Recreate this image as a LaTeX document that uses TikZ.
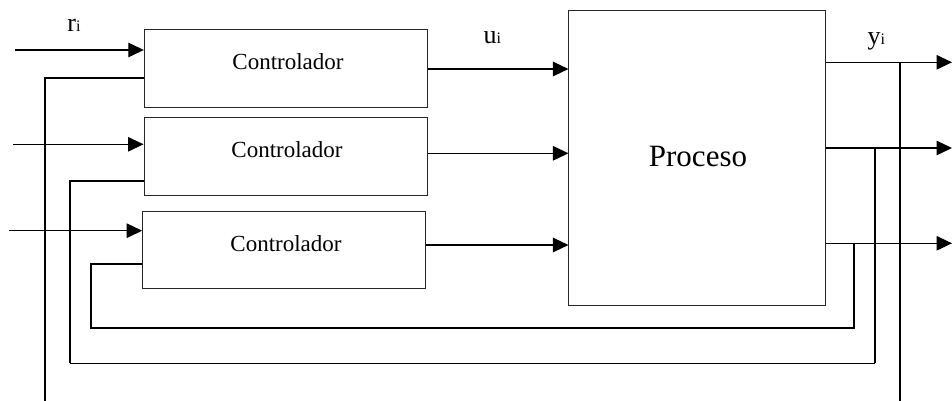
\documentclass[tikz,border=0pt]{standalone}
\usepackage{fontspec}
\setmainfont{Liberation Serif}
\usetikzlibrary{arrows.meta}
\begin{document}
\begin{tikzpicture}[x=1pt,y=-1pt,
  box/.style={draw=black!85, line width=1pt, inner sep=0pt, rectangle},
  sig/.style={line width=1.2pt, -{Triangle[length=15.5pt,width=14.5pt]}},
  fb/.style={line width=2pt},
  fbmid/.style={line width=1.7pt},
  fbthin/.style={line width=1.2pt},
  ctxt/.style={font=\fontsize{23}{26}\selectfont, anchor=base, inner sep=0pt},
  ptxt/.style={font=\fontsize{31}{34}\selectfont, anchor=base, inner sep=0pt},
  var/.style={font=\fontsize{26}{28}\selectfont, anchor=base west, inner sep=0pt},
]
\useasboundingbox (0,0) rectangle (952,401);

% blocks
\node[box, minimum width=283.2pt, minimum height=77.3pt] (c1) at (285.9,68.65) {};
\node[box, minimum width=283pt, minimum height=77.7pt] (c2) at (285.5,156.2) {};
\node[box, minimum width=283.3pt, minimum height=77.3pt] (c3) at (284.3,250.3) {};
\node[box, minimum width=256.5pt, minimum height=295pt] (p) at (697.2,158.2) {};

% texts
\node[ctxt] (t1) at (288,70) {Controlador};
\node[ctxt] (t2) at (287,157.7) {Controlador};
\node[ctxt] (t3) at (286,251.7) {Controlador};
\node[ptxt] (tp) at (698,166.7) {Proceso};
\node[var] (lr) at (67.2,31.3) {r{\fontsize{16}{18}\selectfont i}};
\node[var] (lu) at (483.5,43.3) {u{\fontsize{16}{18}\selectfont i}};
\node[var] (ly) at (867.5,45) {y{\fontsize{16}{18}\selectfont i}};

% inputs r
\coordinate (r1) at (15,50);
\coordinate (r2) at (13,144.3);
\coordinate (r3) at (9,230.7);
\draw[sig] (r1) -- (r1 -| c1.west);
\draw[sig] (r2) -- (r2 -| c2.west);
\draw[sig] (r3) -- (r3 -| c3.west);

% controller outputs u
\coordinate (u1) at (0,69);
\coordinate (u2) at (0,153.3);
\coordinate (u3) at (0,245);
\draw[sig] (u1 -| c1.east) -- (u1 -| p.west);
\draw[sig] (u2 -| c2.east) -- (u2 -| p.west);
\draw[sig] (u3 -| c3.east) -- (u3 -| p.west);

% process outputs y
\coordinate (o1) at (952,62.3);
\coordinate (o2) at (952,148);
\coordinate (o3) at (952,243.3);
\draw[sig] (o1 -| p.east) -- (o1);
\draw[sig] (o2 -| p.east) -- (o2);
\draw[sig] (o3 -| p.east) -- (o3);

% feedback loop 1
\coordinate (k1) at (899.5,401);
\coordinate (b1) at (45,401);
\coordinate (e1) at (0,77.7);
\draw[fb] (k1) -- (k1 |- o1);
\draw[fb] (b1) |- (e1 -| c1.west);

% feedback loop 2
\coordinate (k2) at (874.7,148);
\coordinate (b2) at (70,363.3);
\coordinate (e2) at (0,181);
\draw[fb] (k2) -- (k2 |- b2);
\draw[fbthin] (k2 |- b2) -- (b2);
\draw[fb] (b2) |- (e2 -| c2.west);

% feedback loop 3
\coordinate (k3) at (854,243.3);
\coordinate (b3) at (91,328.3);
\coordinate (e3) at (0,264);
\draw[fbmid] (k3) |- (b3) |- (e3 -| c3.west);
\end{tikzpicture}
\end{document}
